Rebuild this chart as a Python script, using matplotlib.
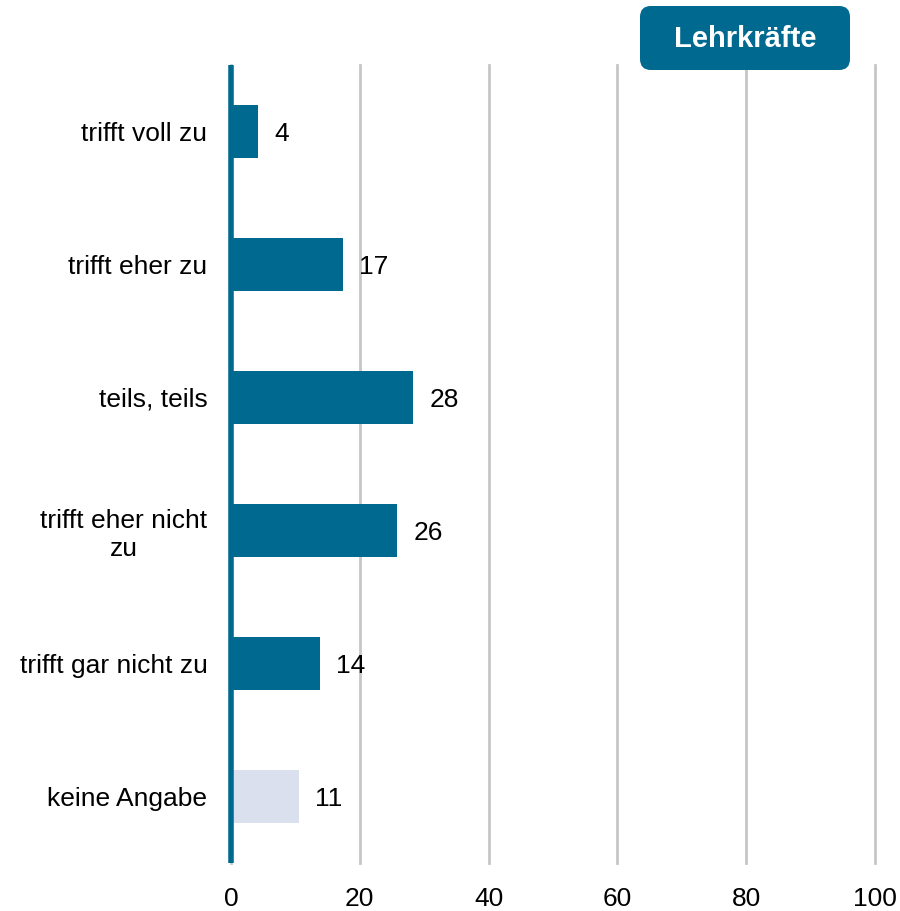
import matplotlib.pyplot as plt
from matplotlib.patches import FancyBboxPatch

plt.rcParams['font.family'] = ['Liberation Sans', 'DejaVu Sans']

categories = ['trifft voll zu', 'trifft eher zu', 'teils, teils',
              'trifft eher nicht\nzu', 'trifft gar nicht zu', 'keine Angabe']
values = [4.2, 17.4, 28.3, 25.8, 13.8, 10.6]
labels = ['4', '17', '28', '26', '14', '11']
xticks = [0, 20, 40, 60, 80, 100]

blue = '#00698f'
light = '#dae0ee'
colors = [blue] * 5 + [light]

fig = plt.figure(figsize=(9, 9.11), dpi=100)
ax = fig.add_axes([231 / 900, 1 - 863 / 911, 644 / 900, 798 / 911])

y = list(range(len(categories)))
ax.barh(y, values, height=0.4, color=colors, zorder=3)
for yi, v, lab in zip(y, values, labels):
    ax.text(v + 2.5, yi + 0.02, lab, va='center', ha='left', fontsize=19, color='black')

ax.set_xlim(0, 100)
ax.set_ylim(len(categories) - 0.5, -0.5)
ax.set_xticks(xticks)
ax.set_yticks(y)
ax.set_yticklabels(categories, fontsize=19, multialignment='center')
ax.tick_params(axis='y', length=0, pad=17, labelcolor='black')
ax.tick_params(axis='x', length=0, labelsize=19, pad=17, labelcolor='black')
ax.grid(axis='x', color='#c6c6c6', linewidth=2, zorder=0)
for line in ax.get_xgridlines():
    line.set_clip_on(False)
for s in ['top', 'right', 'bottom']:
    ax.spines[s].set_visible(False)
ax.spines['left'].set_color(blue)
ax.spines['left'].set_linewidth(4)
ax.spines['left'].set_capstyle('butt')
ax.spines['left'].set_zorder(4)

box = FancyBboxPatch((640 / 900, 1 - 70 / 911), 210 / 900, 64 / 911,
                     boxstyle='round,pad=0,rounding_size=0.012',
                     transform=fig.transFigure, facecolor=blue, edgecolor='none')
fig.patches.append(box)
fig.text(745 / 900, 1 - 39 / 911, 'Lehrkräfte', ha='center', va='center',
         fontsize=21, fontweight='bold', color='white')

fig.savefig('out.png', dpi=100)
